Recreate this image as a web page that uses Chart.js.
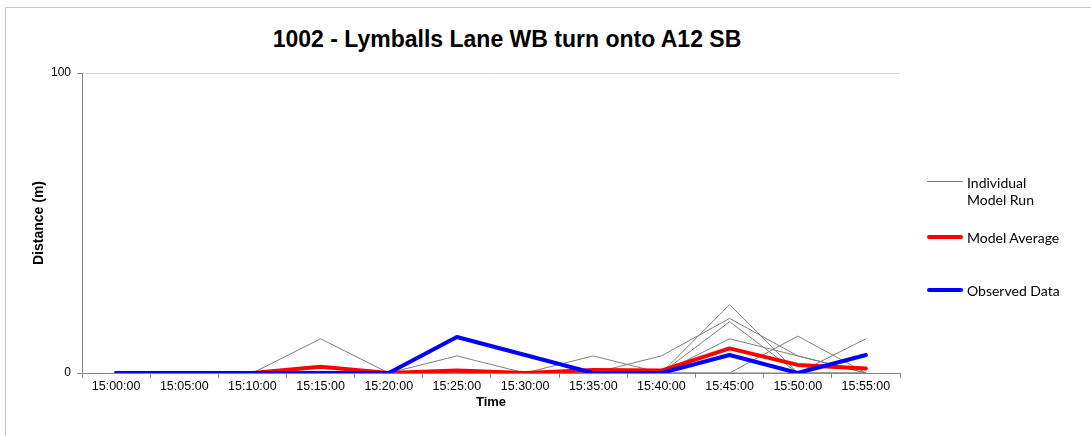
<!DOCTYPE html>
<html>
<head>
<meta charset="utf-8">
<script src="https://cdn.jsdelivr.net/npm/chart.js@4.4.0/dist/chart.umd.min.js"></script>
<style>
  body { margin: 0; background: #fff; overflow: hidden; }
  #wrap { position: relative; width: 1091px; height: 436px; }
  #frame { position: absolute; left: 5px; top: 7px; width: 1100px; height: 440px; border: 1px solid #c8c8c8; }
  #title { position: absolute; left: 0; width: 1014px; top: 26px; text-align: center;
           font: bold 23px "Liberation Sans", Arial, sans-serif; color: #000; }
  #chartBox { position: absolute; left: 0; top: 0; width: 1091px; height: 436px; }
  .lg { position: absolute; left: 927px; font: 14px Lato, "Open Sans", sans-serif; color: #000; line-height: 17px; }
  .lg span.mark { position: absolute; left: 0; width: 36px; }
  .lg span.txt { position: absolute; left: 40px; white-space: nowrap; }
</style>
</head>
<body>
<div id="wrap">
  <div id="frame"></div>
  <div id="title">1002 - Lymballs Lane WB turn onto A12 SB</div>
  <div id="chartBox"><canvas id="myChart"></canvas></div>
  <div class="lg" style="top:174px"><span class="mark" style="top:7px;border-top:1px solid #808080"></span><span class="txt">Individual<br>Model Run</span></div>
  <div class="lg" style="top:229px"><span class="mark" style="top:6px;border-top:4px solid #ff0000;border-radius:2px"></span><span class="txt">Model Average</span></div>
  <div class="lg" style="top:282px"><span class="mark" style="top:6px;border-top:4px solid #0000ff;border-radius:2px"></span><span class="txt">Observed Data</span></div>
</div>
<script>
// values (queue length in metres)
const times = ['15:00:00','15:05:00','15:10:00','15:15:00','15:20:00','15:25:00',
               '15:30:00','15:35:00','15:40:00','15:45:00','15:50:00','15:55:00'];

const run1 = [0, 0, 0, 11.4, 0, 0, 0, 5.7, 0, 17.1, 0, 0];
const run2 = [0, 0, 0, 0, 0, 5.7, 0, 0, 0, 22.8, 0, 0];
const run3 = [0, 0, 0, 0, 0, 0, 0, 0, 5.7, 18.2, 5.7, 0];
const run4 = [0, 0, 0, 0, 0, 0, 0, 0, 0, 11.4, 5.7, 0];
const run5 = [0, 0, 0, 0, 0, 0, 0, 0, 0, 0, 12.3, 0];
const run6 = [0, 0, 0, 0, 0, 0, 0, 0, 0, 0, 0, 11.4];

const modelAverage = [0, 0, 0, 2.1, 0, 0.8, 0, 1, 0.8, 8.2, 2.7, 1.5];
const observed = [0, 0, 0, 0, 0, 12, 6, 0, 0, 6, 0, 6];

const yTicks = [0, 100];

const greyRun = (d) => ({
    data: d,
    borderColor: '#7f7f7f',
    borderWidth: 1,
    pointRadius: 0,
    order: 2
});

const renderChart = () => {
    const ctx = document.getElementById('myChart').getContext('2d');
    const datasets = [run1, run2, run3, run4, run5, run6].map(greyRun);
    datasets.push({ data: modelAverage, borderColor: '#ff0000', borderWidth: 4, pointRadius: 0, order: 1 });
    datasets.push({ data: observed, borderColor: '#0000ff', borderWidth: 4, pointRadius: 0, order: 0 });

    new Chart(ctx, {
        type: 'line',
        data: { labels: times, datasets: datasets },
        options: {
            responsive: true,
            maintainAspectRatio: false,
            animation: false,
            layout: { padding: { left: 27, right: 191, top: 73, bottom: 25 } },
            plugins: { legend: { display: false }, tooltip: { enabled: false } },
            elements: { line: { tension: 0, borderCapStyle: 'round', borderJoinStyle: 'round' } },
            scales: {
                x: {
                    offset: true,
                    grid: { offset: true, drawOnChartArea: false, tickLength: 5, tickColor: '#868686' },
                    border: { color: '#868686' },
                    ticks: { maxRotation: 0, color: '#000', font: { family: 'Liberation Sans', size: 12.5 }, padding: 1 },
                    title: { display: true, text: 'Time', color: '#000', font: { family: 'Liberation Sans', size: 13, weight: 'bold' }, padding: { top: 4, bottom: 1 } },
                    afterFit: (s) => { s.height = 38; }
                },
                y: {
                    min: 0,
                    max: 100,
                    afterBuildTicks: (s) => { s.ticks = yTicks.map(v => ({ value: v })); },
                    grid: {
                        color: (c) => c.tick && c.tick.value === 100 ? '#d9d9d9' : 'rgba(0,0,0,0)',
                        tickColor: '#868686',
                        tickLength: 5
                    },
                    border: { color: '#868686' },
                    ticks: { color: '#000', font: { family: 'Liberation Sans', size: 12 }, padding: 6 },
                    title: { display: true, text: 'Distance (m)', color: '#000', font: { family: 'Liberation Sans', size: 14, weight: 'bold' } },
                    afterFit: (s) => { s.width = 55; }
                }
            }
        }
    });
};

document.addEventListener('DOMContentLoaded', renderChart);
</script>
</body>
</html>
